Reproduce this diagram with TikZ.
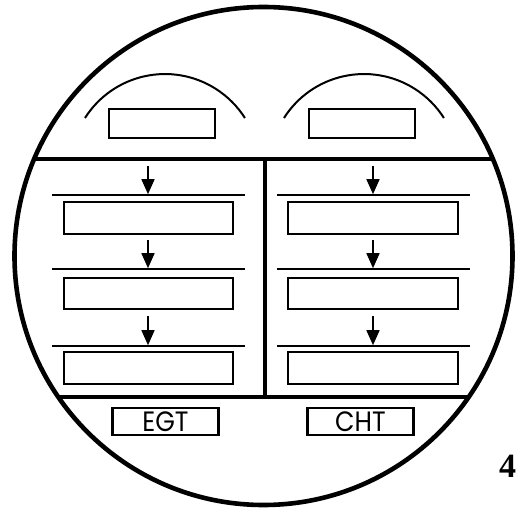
\documentclass[tikz,border=0pt]{standalone}
\usepackage{fontspec}
\setmainfont{Liberation Serif}
\newfontfamily\labfont[FakeStretch=0.9]{Poppins}
\usetikzlibrary{arrows.meta}
\begin{document}
\begin{tikzpicture}[x=1pt,y=-1pt,
  frame/.style={line width=4.6pt},
  divider/.style={line width=4.6pt},
  rule/.style={line width=2pt},
  bowarc/.style={line width=2pt},
  box/.style={draw,line width=2.3pt,inner sep=0pt,minimum width=#1},
  topbox/.style={box=106pt,minimum height=29pt},
  rowbox/.style={box=170pt,minimum height=32pt},
  tagbox/.style={box=106pt,minimum height=27pt,font=\labfont\fontsize{28}{28}\selectfont},
  arr/.style={line width=1.6pt,-{Triangle[width=13pt,length=15pt]}}
]
\useasboundingbox (0,0) rectangle (520,508);
% outer circle
\draw[frame] (263.5,256) circle[radius=249pt];
% dividers
\begin{scope}
  \clip (263.5,256) circle[radius=249pt];
  \draw[divider] (0,159) -- (520,159);
  \draw[divider] (0,397) -- (520,397);
\end{scope}
\draw[divider] (265,159) -- (265,397);
% top arcs and boxes
\draw[bowarc] (85,118) arc[start angle=147.6,end angle=32.4,radius=94.7pt];
\draw[bowarc] (284,118) arc[start angle=147.6,end angle=32.4,radius=94.7pt];
\node[topbox] (tl) at (162,123.5) {};
\node[topbox] (tr) at (362,123.5) {};
% left column
\coordinate (la) at (52,195);  \coordinate (lb) at (245,195);
\coordinate (lc) at (52,269);  \coordinate (ld) at (245,269);
\coordinate (le) at (52,346);  \coordinate (lf) at (245,346);
\draw[rule] (la) -- (lb);
\draw[rule] (lc) -- (ld);
\draw[rule] (le) -- (lf);
\node[rowbox,minimum width=169pt] (l1) at (148.5,218) {};
\node[rowbox,minimum width=169pt,minimum height=31pt] (l2) at (148.5,293.5) {};
\node[rowbox,minimum width=169pt] (l3) at (148.5,368) {};
\coordinate (ls1) at (148,166); \coordinate (lt1) at (148,194.2);
\coordinate (ls2) at (148,240); \coordinate (lt2) at (148,268.2);
\coordinate (ls3) at (148,316); \coordinate (lt3) at (148,345.2);
\draw[arr] (ls1) -- (lt1);
\draw[arr] (ls2) -- (lt2);
\draw[arr] (ls3) -- (lt3);
% right column
\coordinate (ra) at (277,195);  \coordinate (rb) at (470,195);
\coordinate (rc) at (277,269);  \coordinate (rd) at (470,269);
\coordinate (re) at (277,346);  \coordinate (rf) at (470,346);
\draw[rule] (ra) -- (rb);
\draw[rule] (rc) -- (rd);
\draw[rule] (re) -- (rf);
\node[rowbox] (r1) at (373,218) {};
\node[rowbox,minimum height=31pt] (r2) at (373,293.5) {};
\node[rowbox] (r3) at (373,368) {};
\coordinate (rs1) at (373,166); \coordinate (rt1) at (373,194.2);
\coordinate (rs2) at (373,240); \coordinate (rt2) at (373,268.2);
\coordinate (rs3) at (373,316); \coordinate (rt3) at (373,345.2);
\draw[arr] (rs1) -- (rt1);
\draw[arr] (rs2) -- (rt2);
\draw[arr] (rs3) -- (rt3);
% labels
\node[tagbox] (egt) at (165.5,421.5) {EGT};
\node[tagbox] (cht) at (360.5,421.5) {CHT};
\node[font=\bfseries\fontsize{34}{34}\selectfont,inner sep=0pt] (num) at (507.5,466) {4};
\end{tikzpicture}
\end{document}
